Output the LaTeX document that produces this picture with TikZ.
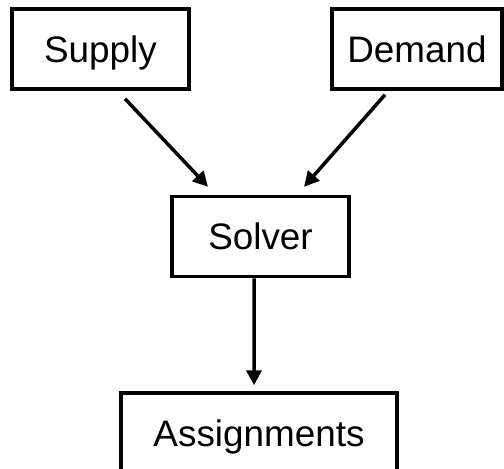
\documentclass[tikz,border=0pt]{standalone}
\usepackage{fontspec}
\setmainfont{Liberation Sans}
\usetikzlibrary{arrows.meta}

\begin{document}
\begin{tikzpicture}[x=1bp, y=-1bp, every node/.style={font=\fontsize{37}{44}\selectfont}]
  % -----------------------------
  % STYLES
  % -----------------------------
  \tikzset{
    blk/.style={draw, line width=3.5bp, rectangle, inner sep=0pt, minimum height=80bp,
      text height=26.5bp, text depth=0pt},
    arr/.style={line width=3.5bp, -{Triangle[length=15bp, width=15bp]}},
  }

  % fixed frame (same size as the reference)
  \useasboundingbox (0,0) rectangle (504,469);

  % -----------------------------
  % BLOCKS
  % -----------------------------
  \node[blk, minimum width=177bp] (supply) at (100.5,49) {Supply};
  \node[blk, minimum width=170bp] (demand) at (417,49) {Demand};
  \node[blk, minimum width=177bp] (solver) at (260.5,236.5) {Solver};
  \node[blk, minimum width=276bp] (assign) at (259,433) {Assignments};

  % -----------------------------
  % ARROWS
  % -----------------------------
  \draw[arr] ([xshift=24.5bp, yshift=-8bp]supply.south) -- ([xshift=-52.5bp, yshift=8bp]solver.north);
  \draw[arr] ([xshift=-32bp, yshift=-4bp]demand.south) -- ([xshift=43.5bp, yshift=8bp]solver.north);
  \draw[arr] ([xshift=-6.5bp]solver.south) -- ([xshift=-5bp, yshift=6bp]assign.north);
\end{tikzpicture}
\end{document}
